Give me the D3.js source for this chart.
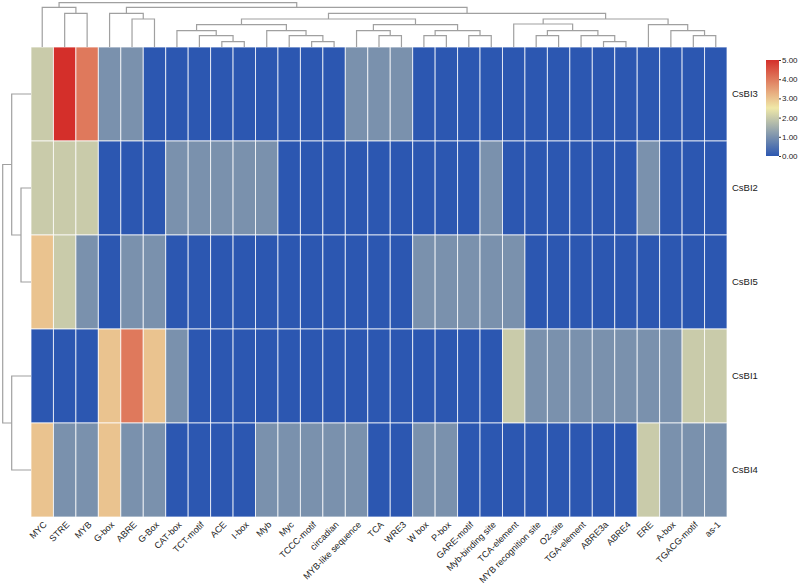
<!DOCTYPE html>
<html>
<head>
<meta charset="utf-8">
<script src="https://cdn.jsdelivr.net/npm/d3@7"></script>
<style>
  html, body { margin: 0; padding: 0; background: #fff; }
  svg { display: block; font-family: "Liberation Sans", Arial, sans-serif; }
</style>
</head>
<body>
<svg id="chart" width="798" height="585"></svg>
<script>
// ---------------- data ----------------
const colNames = ["MYC","STRE","MYB","G-box","ABRE","G-Box","CAT-box","TCT-motif","ACE","I-box",
  "Myb","Myc","TCCC-motif","circadian","MYB-like sequence","TCA","WRE3","W box","P-box","GARE-motif",
  "Myb-binding site","TCA-element","MYB recognition site","O2-site","TGA-element","ABRE3a","ABRE4",
  "ERE","A-box","TGACG-motif","as-1"];
const rowNames = ["CsBI3","CsBI2","CsBI5","CsBI1","CsBI4"];

const valsCsBI3 = [2,5,4,1,1,0,0,0,0,0,0,0,0,0,1,1,1,0,0,0,0,0,0,0,0,0,0,0,0,0,0];
const valsCsBI2 = [2,2,2,0,0,0,1,1,1,1,1,0,0,0,0,0,0,0,0,0,1,0,0,0,0,0,0,1,0,0,0];
const valsCsBI5 = [3,2,1,0,1,1,0,0,0,0,0,0,0,0,0,0,0,1,1,1,1,1,0,0,0,0,0,0,0,0,0];
const valsCsBI1 = [0,0,0,3,4,3,1,0,0,0,0,0,0,0,0,0,0,0,0,0,0,2,1,1,1,1,1,1,1,2,2];
const valsCsBI4 = [3,1,1,3,1,1,0,0,0,0,1,1,1,1,1,0,0,1,1,0,0,0,0,0,0,0,0,2,1,1,1];
const rowValues = [valsCsBI3, valsCsBI2, valsCsBI5, valsCsBI1, valsCsBI4];

// hclust-style merges: [left, right, height]; strings = leaves, numbers = earlier merge index
const colMerges = [
  ["STRE","MYB",33.7],            //0
  ["MYC",0,39.7],                 //1
  ["ABRE","G-Box",28],            //2
  ["G-box",2,33.7],               //3
  ["ACE","I-box",5.3],            //4
  ["TCT-motif",4,11.3],           //5
  ["CAT-box",5,16.3],             //6
  ["TCCC-motif","circadian",5.3], //7
  ["Myc",7,11.3],                 //8
  ["Myb",8,16.3],                 //9
  [6,9,22.3],                     //10
  ["TCA","WRE3",11.3],            //11
  ["MYB-like sequence",11,16.3],  //12
  ["W box","P-box",11.3],         //13
  ["GARE-motif","Myb-binding site",11.3], //14
  [13,14,16.3],                   //15
  [12,15,22.3],                   //16
  [10,16,28],                     //17
  ["MYB recognition site","O2-site",11.3], //18
  ["ABRE3a","ABRE4",5.3],         //19
  ["TGA-element",19,11.3],        //20
  [18,20,16.3],                   //21
  ["TCA-element",21,23],          //22
  ["TGACG-motif","as-1",11.3],    //23
  ["A-box",23,16.3],              //24
  ["ERE",24,22.3],                //25
  [22,25,28],                     //26
  [17,26,33.7],                   //27
  [3,27,39.7],                    //28
  [1,28,44.3]                     //29
];
const rowMerges = [
  ["CsBI2","CsBI5",10],
  ["CsBI3",0,19.3],
  ["CsBI1","CsBI4",19.3],
  [1,2,28.3]
];
const legendTicks = [0,1,2,3,4,5];
const colorStops = [0, 2.5, 5];
const colorRange = ["#2c57b1", "#f0e8a8", "#d42f2a"];

// ---------------- layout ----------------
const svg = d3.select("#chart");
const hmLeft = 31, hmRight = 727, hmTop = 47, hmBottom = 517;

const x = d3.scaleBand().domain(colNames).range([hmLeft, hmRight]).padding(0);
const y = d3.scaleBand().domain(rowNames).range([hmTop, hmBottom]).padding(0);
const color = d3.scaleLinear().domain(colorStops).range(colorRange).interpolate(d3.interpolateRgb).clamp(true);

// ---------------- heatmap ----------------
const cells = [];
rowNames.forEach((r, i) => colNames.forEach((c, j) => cells.push({r, c, v: rowValues[i][j]})));

svg.append("g").selectAll("rect").data(cells).join("rect")
  .attr("x", d => x(d.c))
  .attr("y", d => y(d.r))
  .attr("width", x.bandwidth())
  .attr("height", y.bandwidth())
  .attr("fill", d => color(d.v))
  .attr("stroke", "#ffffff")
  .attr("stroke-opacity", 0.75)
  .attr("stroke-width", 1);

// ---------------- dendrograms ----------------
function buildSegs(merges, leafPos) {
  const nodes = [];
  const segs = [];
  const resolve = ref => typeof ref === "string" ? {pos: leafPos(ref), h: 0} : nodes[ref];
  merges.forEach(([a, b, h]) => {
    const A = resolve(a), B = resolve(b);
    nodes.push({pos: (A.pos + B.pos) / 2, h});
    segs.push({a: A, b: B, h});
  });
  return segs;
}

const hTop = d3.scaleLinear().domain([0, 44.3]).range([hmTop, 2.7]);
const topSegs = buildSegs(colMerges, n => x(n) + x.bandwidth() / 2);
svg.append("g").selectAll("path").data(topSegs).join("path")
  .attr("d", s => `M${s.a.pos},${hTop(s.a.h)}V${hTop(s.h)}H${s.b.pos}V${hTop(s.b.h)}`)
  .attr("fill", "none").attr("stroke", "#a0a0a0").attr("stroke-width", 1.2);

const hLeft = d3.scaleLinear().domain([0, 28.3]).range([hmLeft, 2.7]);
const leftSegs = buildSegs(rowMerges, n => y(n) + y.bandwidth() / 2);
svg.append("g").selectAll("path").data(leftSegs).join("path")
  .attr("d", s => `M${hLeft(s.a.h)},${s.a.pos}H${hLeft(s.h)}V${s.b.pos}H${hLeft(s.b.h)}`)
  .attr("fill", "none").attr("stroke", "#a0a0a0").attr("stroke-width", 1.2);

// ---------------- labels ----------------
svg.append("g").selectAll("text").data(colNames).join("text")
  .attr("transform", d => `translate(${x(d) + x.bandwidth() / 2 + 3},${hmBottom + 6}) rotate(-45)`)
  .attr("text-anchor", "end")
  .attr("dy", "0.35em")
  .attr("font-size", 9)
  .attr("fill", "#1a1a1a")
  .text(d => d);

svg.append("g").selectAll("text").data(rowNames).join("text")
  .attr("x", hmRight + 5)
  .attr("y", d => y(d) + y.bandwidth() / 2)
  .attr("dy", "0.35em")
  .attr("font-size", 9.5)
  .attr("fill", "#1a1a1a")
  .text(d => d);

// ---------------- legend ----------------
const lgX = 766, lgW = 13, lgTop = 60, lgBottom = 156;
const defs = svg.append("defs");
const grad = defs.append("linearGradient").attr("id", "lg")
  .attr("x1", 0).attr("y1", 1).attr("x2", 0).attr("y2", 0);
d3.range(0, 5.01, 0.25).forEach(v => {
  grad.append("stop").attr("offset", v / 5).attr("stop-color", color(v));
});
svg.append("rect").attr("x", lgX).attr("y", lgTop).attr("width", lgW).attr("height", lgBottom - lgTop)
  .attr("fill", "url(#lg)");
const lgScale = d3.scaleLinear().domain([0, 5]).range([lgBottom, lgTop]);
const lgAxis = svg.append("g").attr("transform", `translate(${lgX + lgW},0)`)
  .call(d3.axisRight(lgScale).tickValues(legendTicks).tickFormat(d3.format(".2f")).tickSize(2).tickPadding(1));
lgAxis.select(".domain").remove();
lgAxis.selectAll("text").attr("font-size", 8).attr("fill", "#222").attr("font-family", "Liberation Sans, Arial, sans-serif");
lgAxis.selectAll("line").attr("stroke", "#333");
</script>
</body>
</html>
